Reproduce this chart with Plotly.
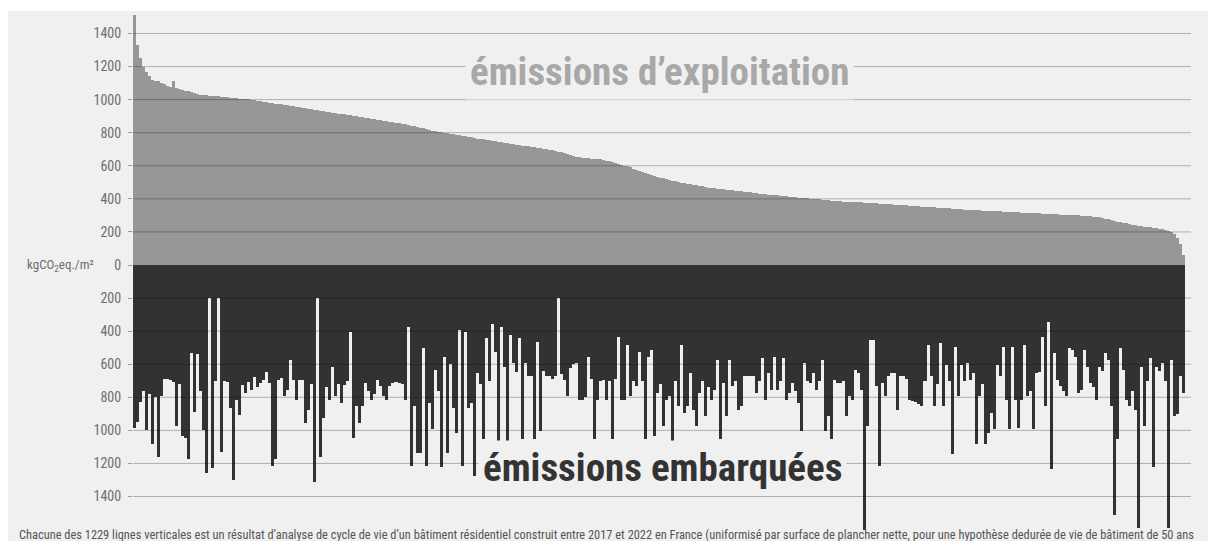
import plotly.graph_objects as go

# Operational emissions per building (kgCO2eq/m²), sorted from highest to lowest
operational = [
    1510, 1330, 1250, 1195, 1165, 1140, 1120, 1115, 1110, 1100,
    1092, 1085, 1078, 1110, 1068, 1062, 1058, 1055, 1050, 1045,
    1040, 1035, 1030, 1028, 1026, 1025, 1023, 1021, 1020, 1018,
    1016, 1014, 1012, 1010, 1008, 1006, 1004, 1003, 1001, 1000,
    997, 994, 991, 988, 985, 982, 979, 976, 974, 971,
    968, 965, 963, 960, 957, 955, 952, 949, 946, 943,
    940, 937, 934, 931, 928, 925, 922, 919, 916, 913,
    911, 908, 905, 902, 899, 896, 893, 890, 887, 884,
    881, 878, 875, 872, 869, 866, 864, 861, 858, 855,
    851, 847, 843, 838, 834, 830, 826, 822, 818, 813,
    809, 805, 802, 799, 796, 793, 790, 787, 784, 781,
    778, 775, 772, 768, 765, 762, 759, 756, 753, 750,
    747, 744, 742, 739, 736, 733, 731, 728, 725, 722,
    719, 717, 714, 711, 708, 706, 703, 700, 697, 695,
    690, 686, 682, 677, 672, 667, 661, 656, 652, 650,
    648, 646, 644, 642, 641, 640, 636, 631, 626, 621,
    616, 611, 606, 601, 596, 590, 583, 577, 570, 564,
    558, 551, 545, 539, 534, 529, 524, 519, 514, 509,
    505, 502, 498, 495, 492, 488, 485, 482, 478, 475,
    471, 468, 465, 463, 461, 459, 457, 455, 453, 451,
    449, 447, 445, 443, 441, 439, 437, 435, 432, 430,
    428, 426, 424, 422, 421, 419, 417, 415, 414, 412,
    410, 408, 407, 405, 403, 402, 400, 398, 397, 395,
    394, 392, 390, 389, 387, 386, 384, 383, 382, 381,
    380, 379, 378, 377, 376, 375, 374, 372, 371, 370,
    369, 367, 366, 365, 364, 362, 361, 360, 358, 357,
    356, 355, 353, 352, 351, 349, 348, 347, 346, 344,
    343, 342, 340, 339, 338, 337, 335, 334, 333, 332,
    331, 330, 329, 328, 328, 327, 326, 325, 324, 323,
    322, 321, 320, 319, 318, 317, 316, 316, 315, 314,
    313, 312, 311, 310, 309, 308, 307, 306, 305, 305,
    304, 303, 303, 301, 300, 298, 297, 295, 294, 292,
    291, 289, 285, 280, 276, 272, 268, 263, 259, 255,
    251, 248, 244, 240, 237, 234, 232, 229, 227, 224,
    222, 219, 217, 214, 208, 200, 190, 165, 130, 60,
]

# Embodied emissions of the same buildings (kgCO2eq/m²), same order
embodied = [
    984, 950, 830, 760, 995, 780, 1080, 800, 1160, 790,
    690, 690, 695, 710, 975, 720, 1035, 1045, 1175, 530,
    890, 540, 760, 995, 1255, 200, 1230, 700, 200, 1130,
    700, 705, 865, 1300, 815, 905, 725, 775, 705, 755,
    675, 735, 715, 695, 645, 715, 1215, 1175, 695, 685,
    795, 755, 575, 695, 815, 695, 695, 954, 874, 720,
    1314, 200, 1164, 924, 740, 814, 614, 794, 720, 834,
    724, 700, 404, 1044, 854, 954, 854, 714, 760, 814,
    780, 694, 734, 794, 814, 730, 714, 705, 714, 720,
    814, 374, 1214, 854, 1134, 1134, 504, 1214, 834, 994,
    634, 760, 1224, 554, 1134, 600, 864, 1014, 394, 1214,
    404, 864, 834, 1274, 654, 720, 1054, 444, 700, 354,
    524, 1064, 374, 614, 1064, 424, 594, 650, 444, 1054,
    594, 674, 674, 1054, 464, 1004, 640, 674, 674, 690,
    674, 200, 660, 694, 794, 620, 600, 590, 814, 814,
    800, 554, 690, 1054, 814, 700, 694, 814, 700, 1054,
    690, 434, 814, 814, 484, 794, 700, 734, 524, 700,
    1054, 554, 514, 1034, 774, 720, 974, 814, 794, 1064,
    700, 854, 484, 894, 854, 654, 874, 974, 774, 704,
    914, 740, 814, 754, 574, 1054, 714, 914, 574, 734,
    700, 874, 854, 674, 670, 670, 674, 774, 700, 564,
    814, 654, 754, 554, 754, 700, 564, 814, 774, 714,
    760, 834, 1004, 594, 700, 714, 654, 754, 700, 574,
    1004, 914, 1054, 694, 714, 714, 700, 914, 794, 814,
    634, 654, 754, 1600, 974, 454, 454, 734, 1214, 714,
    794, 674, 654, 654, 874, 674, 674, 690, 814, 820,
    830, 840, 854, 700, 484, 674, 854, 720, 474, 854,
    604, 700, 1144, 494, 794, 604, 700, 594, 694, 654,
    1084, 794, 720, 1084, 1014, 894, 994, 604, 674, 494,
    814, 994, 494, 814, 984, 814, 484, 794, 760, 994,
    654, 650, 434, 854, 344, 1234, 534, 694, 734, 760,
    794, 504, 514, 554, 774, 754, 514, 614, 714, 740,
    814, 614, 640, 534, 574, 854, 1514, 1054, 504, 634,
    814, 854, 760, 874, 1588, 614, 974, 700, 564, 1224,
    614, 640, 594, 700, 1588, 574, 914, 904, 674, 774,
]

# Value axis: positive side = operational, negative side = embodied
tick_values = [1400, 1200, 1000, 800, 600, 400, 200, 0,
               -200, -400, -600, -800, -1000, -1200, -1400]
tick_labels = [str(abs(v)) for v in tick_values]

unit_label = "kgCO<sub>2</sub>eq./m²"
label_top = "émissions d’exploitation"
label_bottom = "émissions embarquées"
caption = ("Chacune des 1229 lignes verticales est un résultat d’analyse de cycle de vie "
           "d’un bâtiment résidentiel construit entre 2017 et 2022 en France (uniformisé "
           "par surface de plancher nette, pour une hypothèse dedurée de vie de bâtiment de 50 ans")

buildings = list(range(len(operational)))

# ---- page geometry ----
W, H = 1208, 541
ML, MR, MT, MB = 133, 17, 12, 2
PW, PH = W - ML - MR, H - MT - MB
Y_RANGE = [-1657, 1530]          # long embodied spikes run down into the caption
X_RANGE = [-0.5, len(buildings) + 1.5]

BG = "#f0f0f0"
GREY_BAR = "#979797"
DARK_BAR = "#323232"
NARROW = "Noto Sans Condensed, Roboto Condensed, DejaVu Sans Condensed, Roboto, sans-serif"


def px_to_paper_x(px):
    return (px - ML) / PW


def px_to_paper_y(py):
    return (H - MB - py) / PH


fig = go.Figure()
fig.add_trace(go.Bar(
    x=buildings, y=operational,
    marker=dict(color=GREY_BAR, line=dict(width=0)),
    hoverinfo="skip", name="exploitation",
))
fig.add_trace(go.Bar(
    x=buildings, y=[-v for v in embodied],
    marker=dict(color=DARK_BAR, line=dict(width=0)),
    hoverinfo="skip", name="embarquées",
))

# horizontal guide lines drawn over the bars
shapes = []
for v in tick_values:
    if v == 0:
        continue
    shapes.append(dict(type="line", xref="paper", yref="y", x0=0, x1=1, y0=v, y1=v,
                       line=dict(color="rgba(0,0,0,0.27)", width=1), layer="above"))
# white page margin above and left of the grey panel
shapes.append(dict(type="rect", xref="paper", yref="paper",
                   x0=px_to_paper_x(-5), x1=px_to_paper_x(W + 5),
                   y0=px_to_paper_y(11), y1=px_to_paper_y(-5),
                   fillcolor="white", line=dict(width=0), layer="above"))
shapes.append(dict(type="rect", xref="paper", yref="paper",
                   x0=px_to_paper_x(-5), x1=px_to_paper_x(8),
                   y0=px_to_paper_y(H + 5), y1=px_to_paper_y(-5),
                   fillcolor="white", line=dict(width=0), layer="above"))

annotations = [
    dict(text=label_top, x=174.8, y=1165, xref="x", yref="y",
         xanchor="center", yanchor="middle", showarrow=False,
         font=dict(family=NARROW, size=39, color="#a8a8a8", weight="bold"),
         bgcolor=BG, borderpad=4),
    dict(text=label_bottom, x=175.8, y=-1228, xref="x", yref="y",
         xanchor="center", yanchor="middle", showarrow=False,
         font=dict(family=NARROW, size=39, color="#333333", weight="bold"),
         bgcolor=BG, borderpad=4),
    dict(text=unit_label, x=px_to_paper_x(96), y=0, xref="paper", yref="y",
         xanchor="right", yanchor="middle", showarrow=False,
         font=dict(family=NARROW, size=13, color="#6e6e6e")),
    dict(text=caption, x=px_to_paper_x(17), y=px_to_paper_y(534),
         xref="paper", yref="paper", xanchor="left", yanchor="middle",
         showarrow=False, font=dict(family=NARROW, size=12.4, color="#555555")),
]

fig.update_layout(
    width=W, height=H,
    margin=dict(l=ML, r=MR, t=MT, b=MB, pad=0),
    paper_bgcolor=BG, plot_bgcolor=BG,
    barmode="overlay", bargap=0,
    showlegend=False,
    shapes=shapes, annotations=annotations,
    xaxis=dict(range=X_RANGE, visible=False, fixedrange=True),
    yaxis=dict(range=Y_RANGE, tickvals=tick_values, ticktext=tick_labels,
               showgrid=False, zeroline=False, showline=False,
               ticks="outside", ticklen=4, tickcolor="#9a9a9a", tickwidth=1,
               ticklabelstandoff=4,
               tickfont=dict(family=NARROW, size=14, color="#6e6e6e"),
               fixedrange=True),
)

fig.write_html("out.html")
